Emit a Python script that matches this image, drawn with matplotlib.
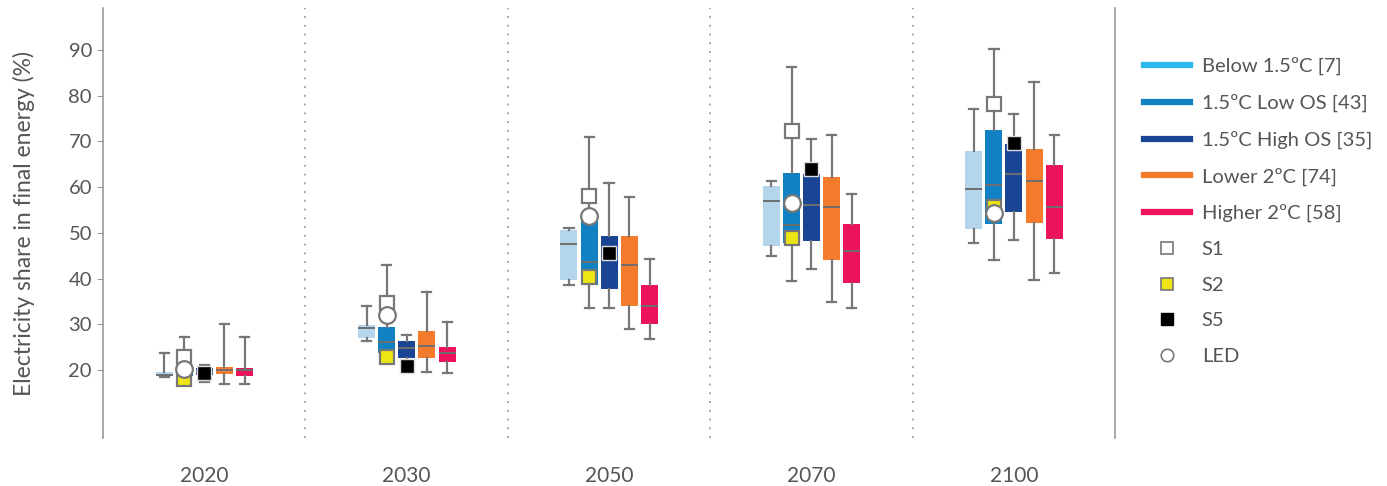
import matplotlib.pyplot as plt
from matplotlib.lines import Line2D

plt.rcParams['font.family'] = ['Lato', 'DejaVu Sans']

years = ['2020', '2030', '2050', '2070', '2100']
categories = ['Below 1.5ºC [7]', '1.5ºC Low OS [43]', '1.5ºC High OS [35]',
              'Lower 2ºC [74]', 'Higher 2ºC [58]']
box_colors = ['#b5d5ec', '#1281c4', '#1a4595', '#f47b2b', '#ec135d']
legend_colors = ['#2bb8ea', '#1281c4', '#1a4595', '#f47b2b', '#ec135d']

# per category, per year: whisker low, q1, median, q3, whisker high
below15 = [(18.5, 18.6, 18.9, 19.5, 23.8), (26.3, 27.0, 29.2, 29.8, 34.0),
           (38.6, 39.7, 47.6, 50.6, 51.1), (45.0, 47.1, 57.0, 60.3, 61.3),
           (47.8, 50.8, 59.6, 67.9, 77.1)]
low_os = [(17.2, 18.7, 19.8, 20.7, 27.2), (21.5, 23.7, 26.1, 29.4, 43.0),
          (33.6, 38.6, 43.6, 53.0, 71.0), (39.5, 47.8, 51.7, 63.1, 86.3),
          (44.1, 51.9, 60.5, 72.5, 90.2)]
high_os = [(17.4, 18.9, 19.6, 20.4, 21.1), (21.0, 22.6, 24.8, 26.3, 27.7),
           (33.6, 37.7, 44.5, 49.3, 60.9), (42.1, 48.2, 56.1, 62.9, 70.5),
           (48.4, 54.6, 62.9, 69.4, 76.0)]
lower2 = [(17.0, 19.1, 20.0, 20.7, 30.0), (19.6, 22.6, 25.3, 28.5, 37.1),
          (29.0, 34.0, 43.0, 49.3, 57.8), (34.9, 44.0, 55.7, 62.2, 71.4),
          (39.7, 52.2, 61.3, 68.3, 83.0)]
higher2 = [(17.0, 18.7, 20.0, 20.4, 27.2), (19.3, 21.8, 23.7, 25.0, 30.5),
           (26.8, 30.1, 34.0, 38.6, 44.3), (33.6, 39.0, 46.0, 51.9, 58.5),
           (41.2, 48.7, 55.7, 64.8, 71.4)]
series = [below15, low_os, high_os, lower2, higher2]

# illustrative pathways
s1 = [22.8, 34.7, 58.0, 72.3, 78.2]
s2 = [18.0, 22.9, 40.3, 48.9, 55.7]
s5 = [19.3, 20.9, 45.6, 64.0, 69.7]
led = [20.2, 32.0, 53.7, 56.5, 54.3]

offsets = [-0.198, -0.098, 0.0, 0.1, 0.2]
width = 0.084
grey = '#777777'
txt = '#555555'

fig = plt.figure(figsize=(13.87, 4.86), dpi=100)
ax = fig.add_axes([0.0743, 0.0988, 0.7296, 0.8847])

for k, data in enumerate(series):
    stats = []
    for lo, q1, med, q3, hi in data:
        stats.append({'whislo': lo, 'q1': q1, 'med': med, 'q3': q3,
                      'whishi': hi, 'fliers': []})
    pos = [i + offsets[k] for i in range(len(years))]
    ax.bxp(stats, positions=pos, widths=width, patch_artist=True,
           showfliers=False, capwidths=0.045,
           boxprops=dict(facecolor=box_colors[k], edgecolor='none'),
           whiskerprops=dict(color=grey, linewidth=1.6),
           capprops=dict(color=grey, linewidth=1.6),
           medianprops=dict(color='#6e6e6e', linewidth=1.4))

xs = [i + offsets[1] for i in range(len(years))]
xs5 = [i + offsets[2] for i in range(len(years))]
ax.plot(xs, s1, 's', ms=10, mfc='white', mec=grey, mew=1.6, zorder=5)
ax.plot(xs, led, 'o', ms=12, mfc='white', mec=grey, mew=1.6, zorder=6)
ax.plot(xs, s2, 's', ms=10, mfc='#ede614', mec=grey, mew=1.6, zorder=5)
ax.plot(xs5, s5, 's', ms=10, mfc='black', mec='#dddddd', mew=1.0, zorder=5)

for x in [0.5, 1.5, 2.5, 3.5]:
    ax.axvline(x, color='#aaaaaa', linestyle=(0, (1, 3.5)), linewidth=1.4)

ax.set_xlim(-0.5, 4.5)
ax.set_ylim(5.1, 99.2)
ax.set_yticks(range(20, 100, 10))
ax.set_xticks(range(len(years)))
ax.set_xticklabels(years)
ax.tick_params(axis='x', length=0, pad=20, labelsize=15, labelcolor=txt)
ax.tick_params(axis='y', length=4, color='#999999', labelsize=14.5,
               labelcolor=txt, pad=4)
for side in ['top', 'bottom']:
    ax.spines[side].set_visible(False)
for side in ['left', 'right']:
    ax.spines[side].set_color('#999999')
    ax.spines[side].set_linewidth(1.2)
ax.set_ylabel('Electricity share in final energy (%)', fontsize=16.5,
              color=txt, labelpad=24)

handles = [Line2D([], [], color=c, lw=4.5) for c in legend_colors]
handles += [
    Line2D([], [], ls='none', marker='s', ms=8, mfc='white', mec=grey, mew=1.2),
    Line2D([], [], ls='none', marker='s', ms=8, mfc='#ede614', mec=grey, mew=1.2),
    Line2D([], [], ls='none', marker='s', ms=8, mfc='black', mec='black'),
    Line2D([], [], ls='none', marker='o', ms=9, mfc='white', mec=grey, mew=1.2),
]
labels = categories + ['S1', 'S2', 'S5', 'LED']
leg = fig.legend(handles, labels, loc='upper left',
                 bbox_to_anchor=(0.812, 0.92), frameon=False, fontsize=14.5,
                 handlelength=2.25, labelspacing=0.92, handletextpad=0.6)
for t in leg.get_texts():
    t.set_color(txt)

fig.savefig('out.png', dpi=100)
